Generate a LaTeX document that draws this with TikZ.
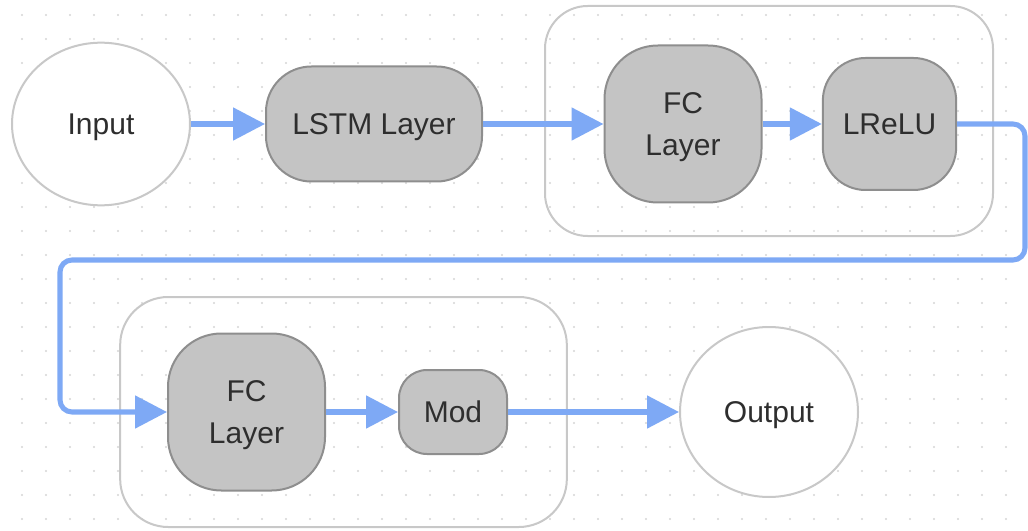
\documentclass[tikz,border=0pt]{standalone}
\usepackage{fontspec}
\setmainfont{Liberation Sans}
\usetikzlibrary{shapes.geometric,arrows.meta}
\definecolor{flowblue}{HTML}{7EA9F5}
\definecolor{boxfill}{HTML}{C4C4C4}
\definecolor{boxline}{HTML}{8E8E8E}
\definecolor{frameline}{HTML}{C8C8C8}
\definecolor{txt}{HTML}{2E2E2E}
\definecolor{dotc}{HTML}{D6D6D6}
\tikzset{
  every node/.style={font=\fontsize{22.5}{32}\selectfont, text=txt, align=center, text depth=0pt},
  layerbox/.style={draw=boxline, line width=1.5pt, fill=boxfill, rectangle, inner sep=0pt},
  framebox/.style={draw=frameline, line width=1.5pt, rectangle, inner sep=0pt},
  endpoint/.style={draw=frameline, line width=1.5pt, ellipse, fill=white, inner sep=0pt},
  flow/.style={draw=flowblue, line width=3.8pt, -{Triangle[length=24pt,width=24pt]}},
  link/.style={draw=flowblue, line width=3.8pt, rounded corners=9pt},
}
\begin{document}
\begin{tikzpicture}[x=0.75pt,y=-0.75pt]
\useasboundingbox (0,0) rectangle (1028,531);
\fill[white] (0,0) rectangle (1028,531);
\foreach \i in {0,...,41}{
  \foreach \j in {0,...,21}{
    \fill[dotc] (22+24*\i,15+24*\j) circle (0.9pt);
  }
}
% frames
\node[framebox, minimum width=336pt, minimum height=172.5pt, rounded corners=32pt] (top) at (769,121) {};
\node[framebox, minimum width=335pt, minimum height=172.5pt, rounded corners=36pt] (bot) at (343.5,412) {};
% nodes
\node[endpoint, minimum width=133.5pt, minimum height=122pt] (in) at (101,124) {Input};
\node[layerbox, minimum width=162pt, minimum height=86.25pt, rounded corners=34pt] (lstm) at (374,124) {LSTM Layer};
\node[layerbox, minimum width=117.75pt, minimum height=117.75pt, rounded corners=40pt] (fc1) at (683,124) {FC\\Layer};
\node[layerbox, minimum width=100pt, minimum height=99pt, rounded corners=32pt] (lrelu) at (889.5,124) {LReLU};
\node[layerbox, minimum width=117.75pt, minimum height=117.75pt, rounded corners=40pt] (fc2) at (246.5,412) {FC\\Layer};
\node[layerbox, minimum width=81pt, minimum height=63pt, rounded corners=21pt] (mod) at (453,412) {Mod};
\node[endpoint, minimum width=133.5pt, minimum height=127.5pt] (out) at (769,412) {Output};
% connectors
\draw[flow] (in) -- (lstm);
\draw[flow] (lstm) -- (fc1);
\draw[flow] (fc1) -- (lrelu);
\coordinate (r) at (1025,260);
\coordinate (l) at (60,260);
\draw[link, -{Triangle[length=24pt,width=24pt]}] (lrelu.east) -| (r) -- (l) |- (fc2.west);
\draw[flow] (fc2) -- (mod);
\draw[flow] (mod) -- (out);
\end{tikzpicture}
\end{document}
